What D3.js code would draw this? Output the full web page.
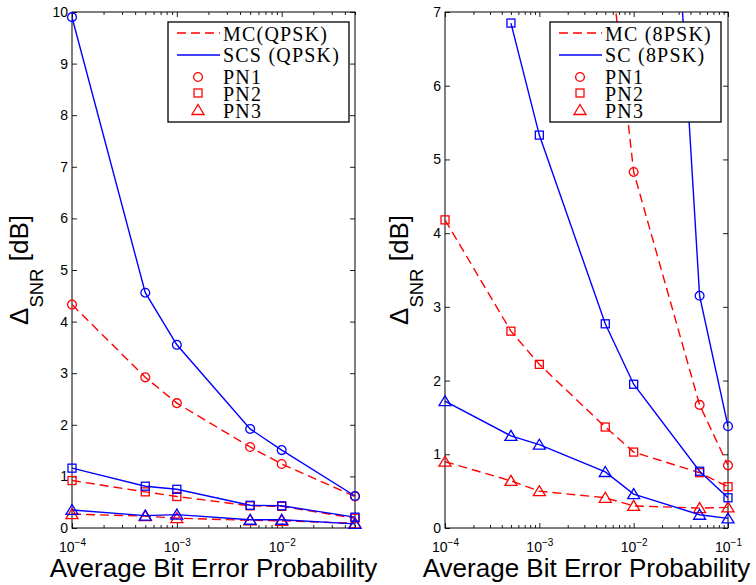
<!DOCTYPE html>
<html lang="en">
<head>
<meta charset="UTF-8">
<title>Delta SNR vs BER</title>
<script src="https://cdn.jsdelivr.net/npm/d3@7"></script>
<style>
body { margin: 0; background: #fff; }
svg text { font-family: "Liberation Sans", Arial, sans-serif; }
.leg text { font-family: "Liberation Serif", serif; font-size: 20px; letter-spacing: 1.2px; }
</style>
</head>
<body>
<script>
// bit error probabilities on the x axis
const berQpsk = [1e-4, 5e-4, 1e-3, 5e-3, 1e-2, 5e-2];
const berPsk8 = [1e-4, 5e-4, 1e-3, 5e-3, 1e-2, 5e-2, 1e-1];
const majorQpsk = [1e-4, 1e-3, 1e-2];
const majorPsk8 = [1e-4, 1e-3, 1e-2, 1e-1];

// QPSK panel, Delta SNR [dB]
const mcQpskPN1  = [4.33, 2.92, 2.42, 1.57, 1.24, 0.61];
const scsQpskPN1 = [9.9, 4.56, 3.55, 1.92, 1.51, 0.62];
const mcQpskPN2  = [0.92, 0.70, 0.61, 0.43, 0.42, 0.19];
const scsQpskPN2 = [1.16, 0.81, 0.75, 0.44, 0.43, 0.21];
const mcQpskPN3  = [0.27, 0.23, 0.19, 0.15, 0.14, 0.09];
const scsQpskPN3 = [0.35, 0.24, 0.26, 0.16, 0.16, 0.08];

// 8PSK panel (null = not plotted)
const mcPsk8PN1 = [null, null, null, 8.3, 4.83, 1.67, 0.85];
const scPsk8PN1 = [null, null, null, null, 18, 3.15, 1.38];
const mcPsk8PN2 = [4.18, 2.67, 2.22, 1.37, 1.03, 0.75, 0.56];
const scPsk8PN2 = [null, 6.85, 5.33, 2.77, 1.95, 0.77, 0.41];
const mcPsk8PN3 = [0.90, 0.64, 0.50, 0.41, 0.30, 0.27, 0.28];
const scPsk8PN3 = [1.72, 1.25, 1.13, 0.76, 0.46, 0.18, 0.13];

const legendQpsk = ['MC(QPSK)', 'SCS (QPSK)', 'PN1', 'PN2', 'PN3'];
const legendPsk8 = ['MC (8PSK)', 'SC (8PSK)', 'PN1', 'PN2', 'PN3'];

const RED = '#ff0000', BLUE = '#0000ff';

let svg = d3.select('body').append('svg')
    .attr('width', 756)
    .attr('height', 585);

function marker(sel, shape, color) {
    if (shape === 'o') {
        sel.append('circle').attr('r', 4.4);
    } else if (shape === 's') {
        sel.append('rect').attr('x', -4).attr('y', -4).attr('width', 8).attr('height', 8);
    } else {
        sel.append('path').attr('d', 'M-6,4.5L6,4.5L0,-5.5Z');
    }
    sel.selectAll('*').attr('fill', 'none').attr('stroke', color).attr('stroke-width', 1.3);
}

function cleanAxis(sel) {
    sel.select('.domain').remove();
    sel.selectAll('line').attr('stroke', '#222');
}

function panel(o) {
    const top = 12, h = 516, w = 283;
    let g = svg.append('g').attr('transform', `translate(${o.left},${top})`);

    let x = d3.scaleLog().domain([1e-4, o.xmax]).range([0, w]);
    let y = d3.scaleLinear().domain([0, o.ymax]).range([h, 0]);

    let minor = x.ticks().filter(d => !o.major.some(m => Math.abs(m - d) / m < 1e-6));

    // x ticks, bottom and top, pointing inward
    g.append('g').attr('transform', `translate(0,${h})`)
        .call(d3.axisBottom(x).tickValues(minor).tickSize(-3).tickFormat(''))
        .call(cleanAxis);
    g.append('g')
        .call(d3.axisTop(x).tickValues(minor).tickSize(-3).tickFormat(''))
        .call(cleanAxis);
    g.append('g')
        .call(d3.axisTop(x).tickValues(o.major).tickSize(-5).tickFormat(''))
        .call(cleanAxis);
    let xb = g.append('g').attr('transform', `translate(0,${h})`)
        .call(d3.axisBottom(x).tickValues(o.major).tickSize(-5).tickFormat(''))
        .call(cleanAxis);
    xb.selectAll('.tick text').each(function (d) {
        let t = d3.select(this).attr('y', 24).attr('dy', null)
            .attr('fill', '#000').attr('font-size', 14);
        t.append('tspan').text('10');
        t.append('tspan').attr('dy', -6).attr('font-size', 10)
            .text('\u2212' + Math.abs(Math.round(Math.log10(d))));
    });

    // y ticks
    g.append('g')
        .call(d3.axisLeft(y).ticks(o.ymax).tickSize(-5).tickPadding(4))
        .call(cleanAxis)
        .selectAll('text').attr('font-size', 14).attr('fill', '#000')
        .attr('font-family', '"Liberation Sans", Arial, sans-serif');
    g.append('g').attr('transform', `translate(${w},0)`)
        .call(d3.axisRight(y).ticks(o.ymax).tickSize(-5).tickFormat(''))
        .call(cleanAxis);

    g.append('rect').attr('width', w).attr('height', h)
        .attr('fill', 'none').attr('stroke', '#000').attr('stroke-width', 1);

    g.append('clipPath').attr('id', o.id)
        .append('rect').attr('width', w).attr('height', h);

    let line = d3.line()
        .defined(d => d[1] != null)
        .x(d => x(d[0]))
        .y(d => y(d[1]));

    o.series.forEach(s => {
        let pts = o.ber.map((b, i) => [b, s.values[i]]);
        g.append('path')
            .attr('clip-path', `url(#${o.id})`)
            .attr('d', line(pts))
            .attr('fill', 'none')
            .attr('stroke', s.color)
            .attr('stroke-width', 1.4)
            .attr('stroke-dasharray', s.dash ? '9,5' : null);
        g.selectAll(null)
            .data(pts.filter(d => d[1] != null && d[1] <= o.ymax))
            .enter().append('g')
            .attr('transform', d => `translate(${x(d[0])},${y(d[1])})`)
            .each(function () { marker(d3.select(this), s.shape, s.color); });
    });

    // legend
    let lg = svg.append('g').attr('class', 'leg')
        .attr('transform', `translate(${o.legX},22)`);
    lg.append('rect').attr('width', o.legW).attr('height', 100)
        .attr('fill', '#fff').attr('stroke', '#000').attr('stroke-width', 1.3);
    lg.append('line').attr('x1', 9).attr('x2', 52).attr('y1', 11).attr('y2', 11)
        .attr('stroke', RED).attr('stroke-width', 1.4).attr('stroke-dasharray', '9,5');
    lg.append('line').attr('x1', 9).attr('x2', 52).attr('y1', 33).attr('y2', 33)
        .attr('stroke', BLUE).attr('stroke-width', 1.4);
    [['o', 55], ['s', 71], ['^', 88]].forEach(m => {
        let mg = lg.append('g').attr('transform', `translate(30,${m[1]})`);
        marker(mg, m[0], RED);
    });
    const base = [19, 40, 62, 79, 96];
    lg.selectAll('text').data(o.legend).enter().append('text')
        .attr('x', 55).attr('y', (d, i) => base[i])
        .attr('fill', '#000')
        .text(d => d);

    // axis labels
    svg.append('text')
        .attr('x', o.left + w / 2).attr('y', 577)
        .attr('text-anchor', 'middle').attr('font-size', 26)
        .text('Average Bit Error Probability');
    let yl = svg.append('text')
        .attr('transform', `translate(${o.yLabX},${top + h / 2}) rotate(-90)`)
        .attr('text-anchor', 'middle').attr('font-size', 26);
    yl.append('tspan').text('\u0394');
    yl.append('tspan').attr('dy', 15).attr('font-size', 18.5).text('SNR');
    yl.append('tspan').attr('dy', -15).text(' [dB]');
}

panel({
    id: 'clipQpsk', left: 72, xmax: 5e-2, ymax: 10,
    ber: berQpsk, major: majorQpsk, legend: legendQpsk,
    legX: 168, legW: 181, yLabX: 28,
    series: [
        { values: mcQpskPN1, color: RED, dash: true, shape: 'o' },
        { values: mcQpskPN2, color: RED, dash: true, shape: 's' },
        { values: mcQpskPN3, color: RED, dash: true, shape: '^' },
        { values: scsQpskPN1, color: BLUE, dash: false, shape: 'o' },
        { values: scsQpskPN2, color: BLUE, dash: false, shape: 's' },
        { values: scsQpskPN3, color: BLUE, dash: false, shape: '^' }
    ]
});

panel({
    id: 'clipPsk8', left: 445, xmax: 1e-1, ymax: 7,
    ber: berPsk8, major: majorPsk8, legend: legendPsk8,
    legX: 550, legW: 171, yLabX: 408,
    series: [
        { values: mcPsk8PN1, color: RED, dash: true, shape: 'o' },
        { values: mcPsk8PN2, color: RED, dash: true, shape: 's' },
        { values: mcPsk8PN3, color: RED, dash: true, shape: '^' },
        { values: scPsk8PN1, color: BLUE, dash: false, shape: 'o' },
        { values: scPsk8PN2, color: BLUE, dash: false, shape: 's' },
        { values: scPsk8PN3, color: BLUE, dash: false, shape: '^' }
    ]
});
</script>
</body>
</html>
